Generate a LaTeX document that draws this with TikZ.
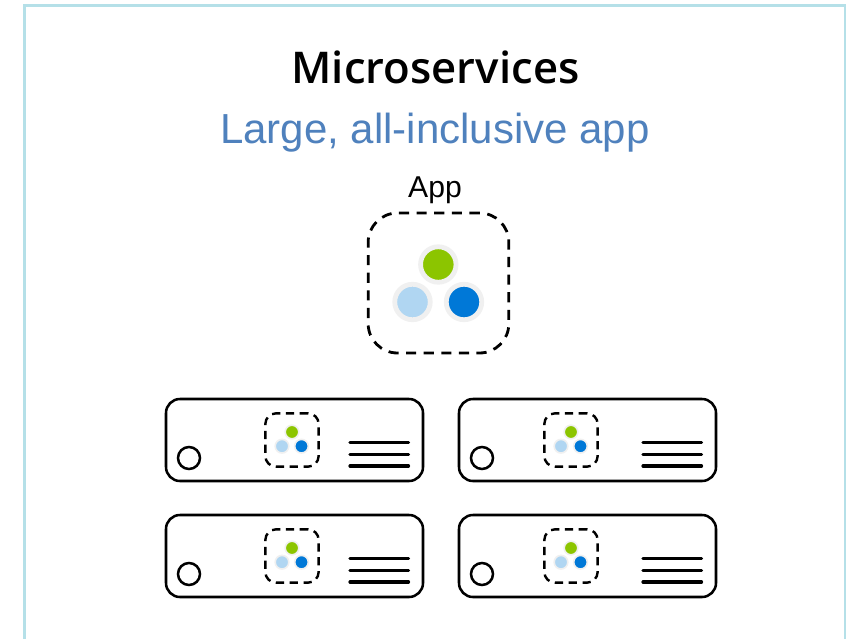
\documentclass[tikz,border=0pt]{standalone}
\usepackage{fontspec}
\setmainfont{Liberation Sans}
\newfontfamily\titlefont[BoldFont={Open Sans Semibold}]{Open Sans}
\definecolor{framec}{HTML}{B5E0E8}
\definecolor{subc}{HTML}{4F81BD}
\definecolor{greenc}{HTML}{8CC500}
\definecolor{lightc}{HTML}{B0D6F2}
\definecolor{bluec}{HTML}{0078D7}
\definecolor{haloc}{HTML}{F0F0F0}
\tikzset{
  x=0.75pt,y=-0.75pt,
  serverbox/.style={draw=black,line width=1.9pt,rounded corners=10.5pt,minimum width=192.75pt,minimum height=61.5pt,inner sep=0pt},
  bigapp/.style={draw=black,line width=2.1pt,dash pattern=on 7.6pt off 5.6pt,rounded corners=22pt,minimum width=105.5pt,minimum height=105pt,inner sep=0pt},
  miniapp/.style={draw=black,line width=1.8pt,dash pattern=on 6.2pt off 4.2pt,rounded corners=8pt,minimum width=40pt,minimum height=40pt,inner sep=0pt},
  bigdot/.style={circle,draw=haloc,line width=3.6pt,minimum size=26.6pt,inner sep=0pt},
  minidot/.style={circle,draw=haloc,line width=1.2pt,minimum size=10.2pt,inner sep=0pt},
  led/.style={circle,draw=black,line width=1.9pt,minimum size=16.5pt,inner sep=0pt},
  barline/.style={draw=black,line width=2.4pt,line cap=round},
  pics/server/.style={code={
    \node[serverbox] (-box) at (0,0) {};
    \node[miniapp] (-app) at (#1,0) {};
    \node[minidot,fill=greenc] (-g) at (#1,-8) {};
    \node[minidot,fill=lightc] (-l) at (#1-10,6.2) {};
    \node[minidot,fill=bluec] (-b) at (#1+9.5,6.2) {};
    \node[led] (-led) at (-105.5,18) {};
    \coordinate (-a1) at (55.5,2.5); \coordinate (-a2) at (114,2.5);
    \coordinate (-b1) at (55.5,14.5); \coordinate (-b2) at (114,14.5);
    \coordinate (-c1) at (55.5,26); \coordinate (-c2) at (114,26);
    \draw[barline] (-a1) -- (-a2);
    \draw[barline] (-b1) -- (-b2);
    \draw[barline] (-c1) -- (-c2);
  }}
}
\begin{document}
\begin{tikzpicture}
\useasboundingbox (0,0) rectangle (851,639);
\fill[white] (0,0) rectangle (851,639);
\coordinate (fa) at (24.5,645);
\coordinate (fb) at (24.5,5.5);
\coordinate (fc) at (845,5.5);
\coordinate (fd) at (845,645);
\draw[framec,line width=1.7pt] (fa) -- (fb) -- (fc) -- (fd);
\node[font=\titlefont\bfseries\fontsize{32.8}{36}\selectfont,text=black,inner sep=0pt] (title) at (435.5,67) {Microservices};
\node[font=\fontsize{31.5}{36}\selectfont,text=subc,inner sep=0pt,anchor=base] (sub) at (435,143) {Large, all-inclusive app};
\node[font=\fontsize{22.6}{26}\selectfont,text=black,inner sep=0pt,anchor=base] (applabel) at (435,197) {App};
\node[bigapp] (app) at (438.5,283) {};
\node[bigdot,fill=greenc] (dg) at (438.3,264.5) {};
\node[bigdot,fill=lightc] (dl) at (412.5,302) {};
\node[bigdot,fill=bluec] (db) at (464,302) {};
\pic (s1) at (294.5,440) {server={-2.5}};
\pic (s2) at (587.5,440) {server={-16.5}};
\pic (s3) at (294.5,556) {server={-2.5}};
\pic (s4) at (587.5,556) {server={-16.5}};
\end{tikzpicture}
\end{document}
